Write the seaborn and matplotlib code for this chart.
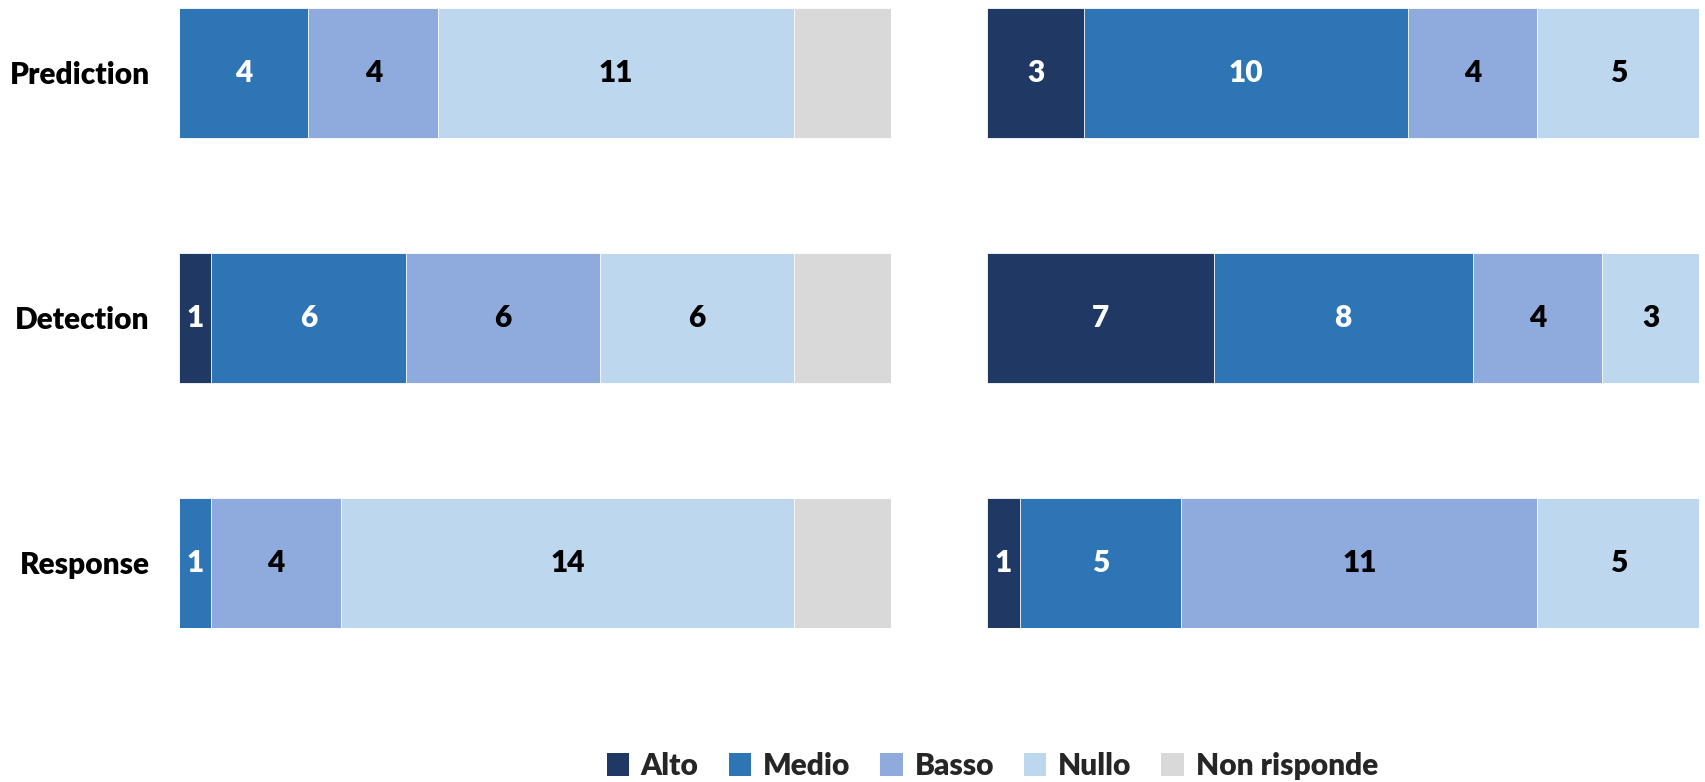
import matplotlib
matplotlib.use("Agg")
import matplotlib.pyplot as plt
import numpy as np
import pandas as pd
import seaborn as sns
from matplotlib.patches import Patch

# data
phases = ["Prediction", "Detection", "Response"]
levels = ["Alto", "Medio", "Basso", "Nullo", "Non risponde"]
left_alto = [0, 1, 0]
left_medio = [4, 6, 1]
left_basso = [4, 6, 4]
left_nullo = [11, 6, 14]
left_nr = [3, 3, 3]
right_alto = [3, 7, 1]
right_medio = [10, 8, 5]
right_basso = [4, 4, 11]
right_nullo = [5, 3, 5]
right_nr = [0, 0, 0]

colors = ["#203864", "#2E75B6", "#8FAADC", "#BDD7EE", "#D9D9D9"]
text_colors = ["white", "white", "black", "black", None]

sns.set_theme(style="white")
plt.rcParams["font.family"] = ["Lato", "DejaVu Sans"]
plt.rcParams["font.weight"] = "heavy"

FS = 21.5

fig = plt.figure(figsize=(17.05, 7.82), dpi=100)
ax_l = fig.add_axes([0.105, 0.197, 0.4176, 0.793])
ax_r = fig.add_axes([0.579, 0.197, 0.4176, 0.793])


def stacked(ax, series, show_labels):
    df = pd.DataFrame(dict(zip(levels, series)), index=phases)
    cum = df.cumsum(axis=1)
    # draw cumulative totals from the widest down, so each segment shows
    for lev, col in reversed(list(zip(levels, colors))):
        d = pd.DataFrame({"phase": phases, "val": cum[lev].values})
        sns.barplot(data=d, x="val", y="phase", orient="h", color=col,
                    width=0.53, edgecolor="white", linewidth=0.6,
                    saturation=1, ax=ax)
    for lev, tc in zip(levels, text_colors):
        if tc is None:
            continue
        for i, ph in enumerate(phases):
            v = df.loc[ph, lev]
            if v == 0:
                continue
            center = cum.loc[ph, lev] - v / 2
            ax.text(center, i, str(v), ha="center", va="center",
                    color=tc, fontsize=FS, fontweight="heavy")
    ax.set_xlim(0, df.values.sum(axis=1).max())
    ax.set_ylim(2.265, -0.265)
    ax.set_xlabel("")
    ax.set_ylabel("")
    ax.set_xticks([])
    for s in ax.spines.values():
        s.set_visible(False)
    if show_labels:
        ax.tick_params(axis="y", length=0, pad=21)
        for t in ax.get_yticklabels():
            t.set_fontsize(FS)
            t.set_fontweight("heavy")
            t.set_color("black")
    else:
        ax.set_yticks([])


stacked(ax_l, [left_alto, left_medio, left_basso, left_nullo, left_nr], True)
stacked(ax_r, [right_alto, right_medio, right_basso, right_nullo, right_nr], False)

handles = [Patch(facecolor=c, edgecolor="none") for c in colors]
fig.legend(handles, levels, loc="center", bbox_to_anchor=(0.582, 0.021),
           ncol=5, frameon=False, handlelength=0.75,
           handleheight=0.8, handletextpad=0.4, columnspacing=1.0,
           prop={"weight": "heavy", "size": FS})

fig.savefig("out.png", dpi=100)
